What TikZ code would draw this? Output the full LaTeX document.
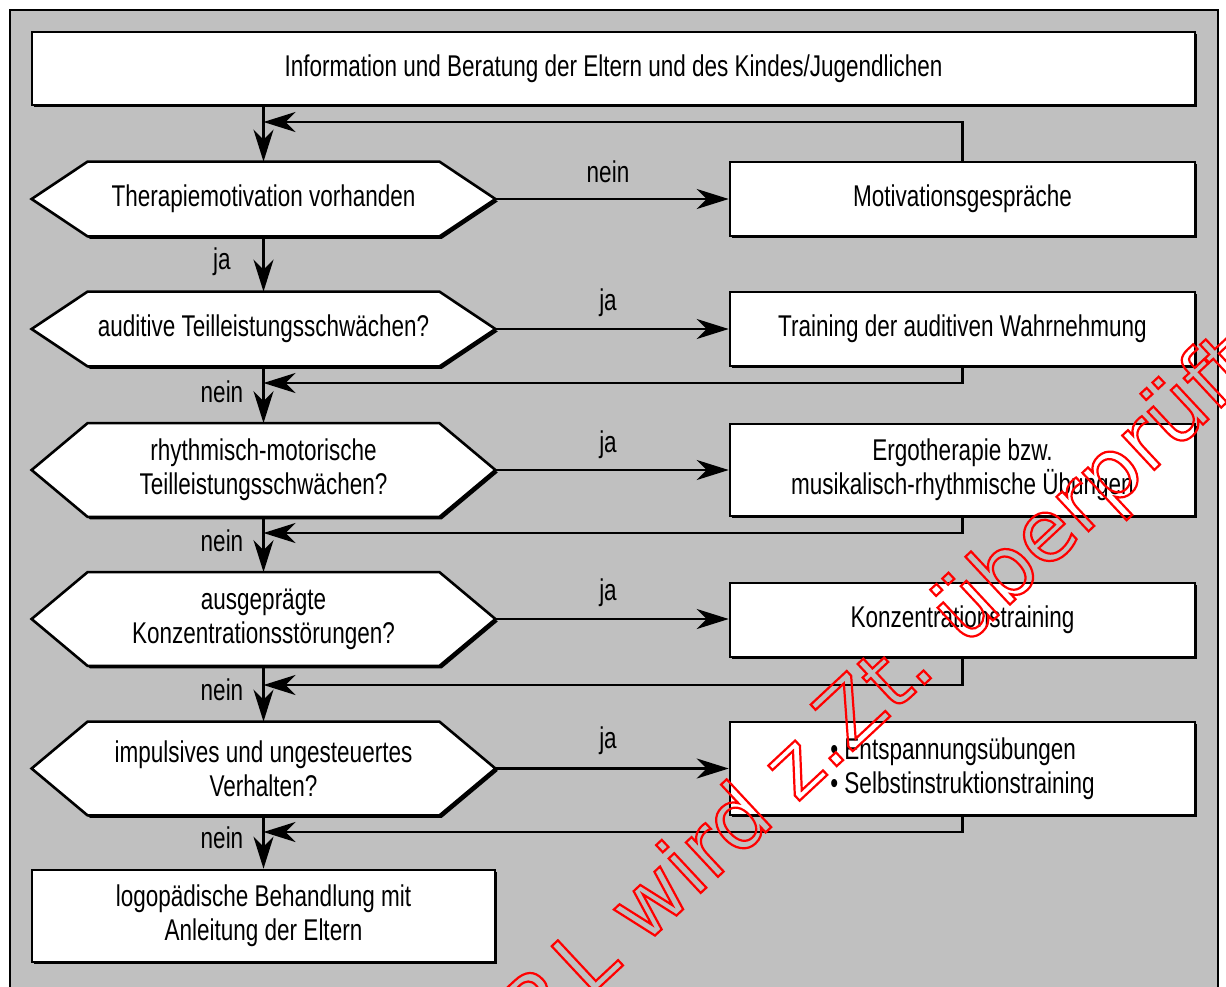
\documentclass[tikz,border=0pt]{standalone}
\usepackage{fontspec}
\setmainfont[FakeStretch=0.75]{Liberation Sans}
\newfontfamily\wmfont{DejaVu Sans}
\usetikzlibrary{arrows.meta,shadows,calc}

% outlined (stroked) glyphs for the stamp text
\newcommand\outlinetext[1]{\special{pdf:literal direct 1 Tr 1.1 w}#1\special{pdf:literal direct 0 Tr}}

\definecolor{panel}{HTML}{C0C0C0}

\pgfdeclarelayer{bg}
\pgfsetlayers{bg,main}

% hexagonal decision outline around a named text node
\newcommand\hexaround[1]{%
  \begin{pgfonlayer}{bg}
    \filldraw[hexline]
      ($(#1.north west)+(28pt,0pt)$) -- ($(#1.north east)+(-28pt,0pt)$) -- (#1.east)
      -- ($(#1.south east)+(-28pt,0pt)$) -- ($(#1.south west)+(28pt,0pt)$) -- (#1.west) -- cycle;
  \end{pgfonlayer}}

\begin{document}
\begin{tikzpicture}[x=0.5pt,y=-0.5pt,
  font=\fontsize{15}{17}\selectfont,
  shade/.style={drop shadow={shadow xshift=1.2pt,shadow yshift=-1.2pt,fill=black,opacity=1}},
  box/.style={draw,line width=1.3pt,fill=white,shade,inner sep=0pt,align=center},
  act/.style={box,minimum width=232.5pt,minimum height=37pt},
  hexline/.style={line width=1.3pt,fill=white,draw=black,shade},
  dec/.style={inner sep=0pt,align=center,minimum width=231.5pt},
  dec1/.style={dec,minimum height=37pt},
  dec2/.style={dec,minimum height=46.5pt},
  flow/.style={line width=1.4pt,-{Stealth[length=16pt,width=10pt,inset=5pt]}},
  lab/.style={inner sep=0pt},
  wm/.style={text=red,font=\wmfont\fontsize{43}{43}\selectfont,inner sep=0pt}]

\useasboundingbox (0,0) rectangle (1226,986);
\begin{pgfonlayer}{bg}
  \fill[white] (0,0) rectangle (1226,986);
  \fill[panel] (10,10) rectangle (1218,990);
  \draw[line width=1pt] (10,990) -- (10,10) -- (1218,10) -- (1218,990);
\end{pgfonlayer}

% process steps and decisions
\node[box,minimum width=581.5pt,minimum height=36.5pt] (T) at (613.5,68.5)
  {Information und Beratung der Eltern und des Kindes/Jugendlichen};

\node[dec1] (d1) at (263.5,199) {Therapiemotivation vorhanden};
\hexaround{d1}
\node[act]  (b1) at (962.5,199) {Motivationsgespräche};

\node[dec1] (d2) at (263.5,329) {auditive Teilleistungsschwächen?};
\hexaround{d2}
\node[act]  (b2) at (962.5,329) {Training der auditiven Wahrnehmung};

\node[dec2] (d3) at (263.5,470) {rhythmisch-motorische\\Teilleistungsschwächen?};
\hexaround{d3}
\node[act,minimum height=46pt] (b3) at (962.5,470)
  {Ergotherapie bzw.\\musikalisch-rhythmische Übungen};

\node[dec2] (d4) at (263.5,619) {ausgeprägte\\Konzentrationsstörungen?};
\hexaround{d4}
\node[act]  (b4) at (962.5,620) {Konzentrationstraining};

\node[dec2] (d5) at (263.5,768.5) {impulsives und ungesteuertes\\Verhalten?};
\hexaround{d5}
\node[act,minimum height=46.5pt,align=left] (b5) at (962.5,768.5)
  {\textbullet\ Entspannungsübungen\\\textbullet\ Selbstinstruktionstraining};

\node[box,minimum width=231.5pt,minimum height=46pt] (E) at (263.5,916)
  {logopädische Behandlung mit\\Anleitung der Eltern};

% return points on the main line
\coordinate (f1) at (263.5,122);
\coordinate (f2) at (263.5,383);
\coordinate (f3) at (263.5,533);
\coordinate (f4) at (263.5,685);
\coordinate (f5) at (263.5,832);

% main line
\draw[flow] (T.south -| d1.north) -- (d1.north);
\draw[flow] (d1.south) -- (d2.north);
\draw[flow] (d2.south) -- (d3.north);
\draw[flow] (d3.south) -- (d4.north);
\draw[flow] (d4.south) -- (d5.north);
\draw[flow] (d5.south) -- (E.north);

% branches to the measures
\draw[flow] (d1.east) -- (b1.west);
\draw[flow] (d2.east) -- (b2.west);
\draw[flow] (d3.east) -- (b3.west);
\draw[flow] (d4.east) -- (d4.east -| b4.west);
\draw[flow] (d5.east) -- (b5.west);

% back to the main line
\draw[flow] (b1.north) |- (f1);
\draw[flow] (b2.south) |- (f2);
\draw[flow] (b3.south) |- (f3);
\draw[flow] (b4.south) |- (f4);
\draw[flow] (b5.south) |- (f5);

% labels
\node[lab] (l1) at (608,172) {nein};
\node[lab] (l2) at (222,262) {ja};
\node[lab] (l3) at (608,303) {ja};
\node[lab] (l4) at (222,392) {nein};
\node[lab] (l5) at (608,445) {ja};
\node[lab] (l6) at (222,541) {nein};
\node[lab] (l7) at (608,593) {ja};
\node[lab] (l8) at (222,690) {nein};
\node[lab] (l9) at (608,741) {ja};
\node[lab] (l10) at (222,838) {nein};

% stamp
\begin{scope}
  \clip (0,0) rectangle (1226,986);
  \node[wm,rotate=43,anchor=base west] (stamp) at (588,998)
    {\outlinetext{\llap{UR\kern5pt}L wird z.Zt. überprüft}};
\end{scope}
\end{tikzpicture}
\end{document}
